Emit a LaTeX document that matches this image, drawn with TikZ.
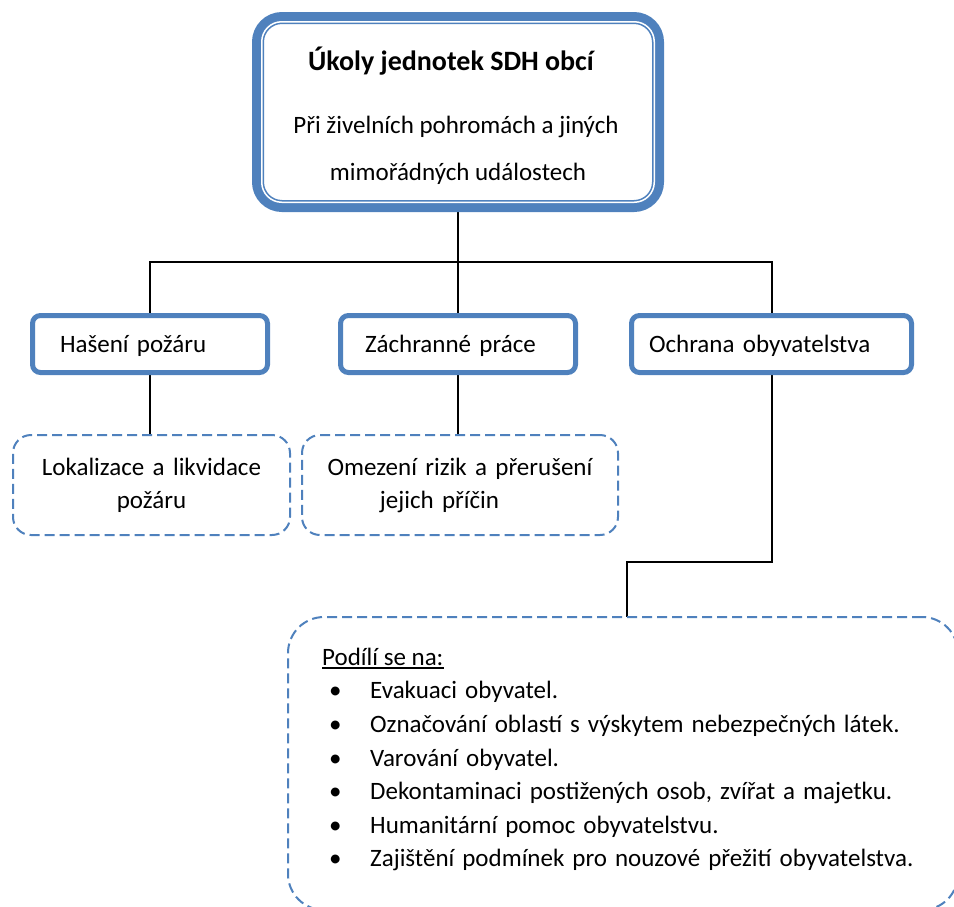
\documentclass[tikz,border=0pt]{standalone}
\usepackage{fontspec}
\setmainfont{Carlito}
\usetikzlibrary{backgrounds}
\definecolor{ofblue}{HTML}{4F81BD}
\newcommand\widespaces{\setlength{\spaceskip}{8pt}}
\tikzset{
  basefont/.style={font=\fontsize{25}{33}\selectfont},
  mainbox/.style={draw=ofblue, line width=12pt, rounded corners=24pt, fill=white,
    minimum width=400pt, minimum height=188pt, inner sep=0pt, outer sep=0pt},
  levelbox/.style={draw=ofblue, line width=5pt, rounded corners=8pt, fill=white,
    minimum height=57pt, inner ysep=0pt, outer sep=0pt, align=left, basefont,
    text height=21pt, text depth=5pt},
  dashbox/.style={draw=ofblue, line width=2pt, dash pattern=on 10pt off 5pt,
    rounded corners=18pt, fill=white, minimum height=100pt, inner sep=0pt,
    outer sep=0pt, align=center, basefont},
  txt/.style={basefont, inner sep=0pt, anchor=base},
  itemtxt/.style={basefont, inner sep=0pt, anchor=base west},
  conn/.style={draw=black, line width=2pt},
}
\begin{document}
\begin{tikzpicture}[x=1pt,y=-1pt]
\useasboundingbox (0,0) rectangle (954,906);
% top box
\node[mainbox] (top) at (458,112) {};
\draw[white, line width=1.5pt, rounded corners=20pt]
  ([shift={(3.75,3.75)}]top.north west) rectangle ([shift={(-3.75,-3.75)}]top.south east);
\node[txt, font=\bfseries\fontsize{28}{33}\selectfont] (title) at (451,70) {Úkoly jednotek SDH obcí};
\node[txt] (sub1) at (456,133) {Při živelních pohromách a jiných};
\node[txt] (sub2) at (458,180) {mimořádných událostech};
% level boxes
\node[levelbox, text width=180pt, inner xsep=27.5pt] (has) at (150,344) {Hašení požáru};
\node[levelbox, text width=186pt, inner xsep=24.5pt] (zach) at (458,344) {Záchranné práce};
\node[levelbox, text width=245pt, inner xsep=17.5pt] (och) at (771.5,344) {Ochrana obyvatelstva};
% dashed boxes
\node[dashbox, minimum width=277pt, text width=260pt] (lok) at (151.5,485) {Lokalizace a likvidace\\ požáru};
\node[dashbox, minimum width=316pt, text width=300pt] (ome) at (460,485) {Omezení rizik a přerušení\\ jejich příčin\hbox to 41pt{}};
% bottom box
\node[dashbox, rounded corners=36pt, minimum width=670pt, minimum height=293pt] (pod) at (623,763.5) {};
\node[itemtxt] (podh) at (322,665) {Podílí se na:};
\draw[line width=1.5pt] ([yshift=-3pt]podh.base west) -- ([yshift=-3pt]podh.base east);
\node[itemtxt] (i1) at (329,698) {\widespaces\makebox[41pt][l]{\textbullet}Evakuaci obyvatel.};
\node[itemtxt] (i2) at (329,732) {\widespaces\makebox[41pt][l]{\textbullet}Označování oblastí s výskytem nebezpečných látek.};
\node[itemtxt] (i3) at (329,766) {\widespaces\makebox[41pt][l]{\textbullet}Varování obyvatel.};
\node[itemtxt] (i4) at (329,799) {\widespaces\makebox[41pt][l]{\textbullet}Dekontaminaci postižených osob, zvířat a majetku.};
\node[itemtxt] (i5) at (329,833) {\widespaces\makebox[41pt][l]{\textbullet}Humanitární pomoc obyvatelstvu.};
\node[itemtxt] (i6) at (329,866) {\widespaces\makebox[41pt][l]{\textbullet}Zajištění podmínek pro nouzové přežití obyvatelstva.};
% connectors
\begin{scope}[on background layer]
\coordinate (hub) at (458,262);
\coordinate (elbow) at (627,562);
\draw[conn] (top.south) -- (hub);
\draw[conn] (hub) -| (has.north);
\draw[conn] (hub) -| (och.north);
\draw[conn] (hub) -- (zach.north);
\draw[conn] (has.south) -- (has.south |- lok.north);
\draw[conn] (zach.south) -- (zach.south |- ome.north);
\draw[conn] (och.south) |- (elbow) -- (elbow |- pod.north);
\end{scope}
\end{tikzpicture}
\end{document}
